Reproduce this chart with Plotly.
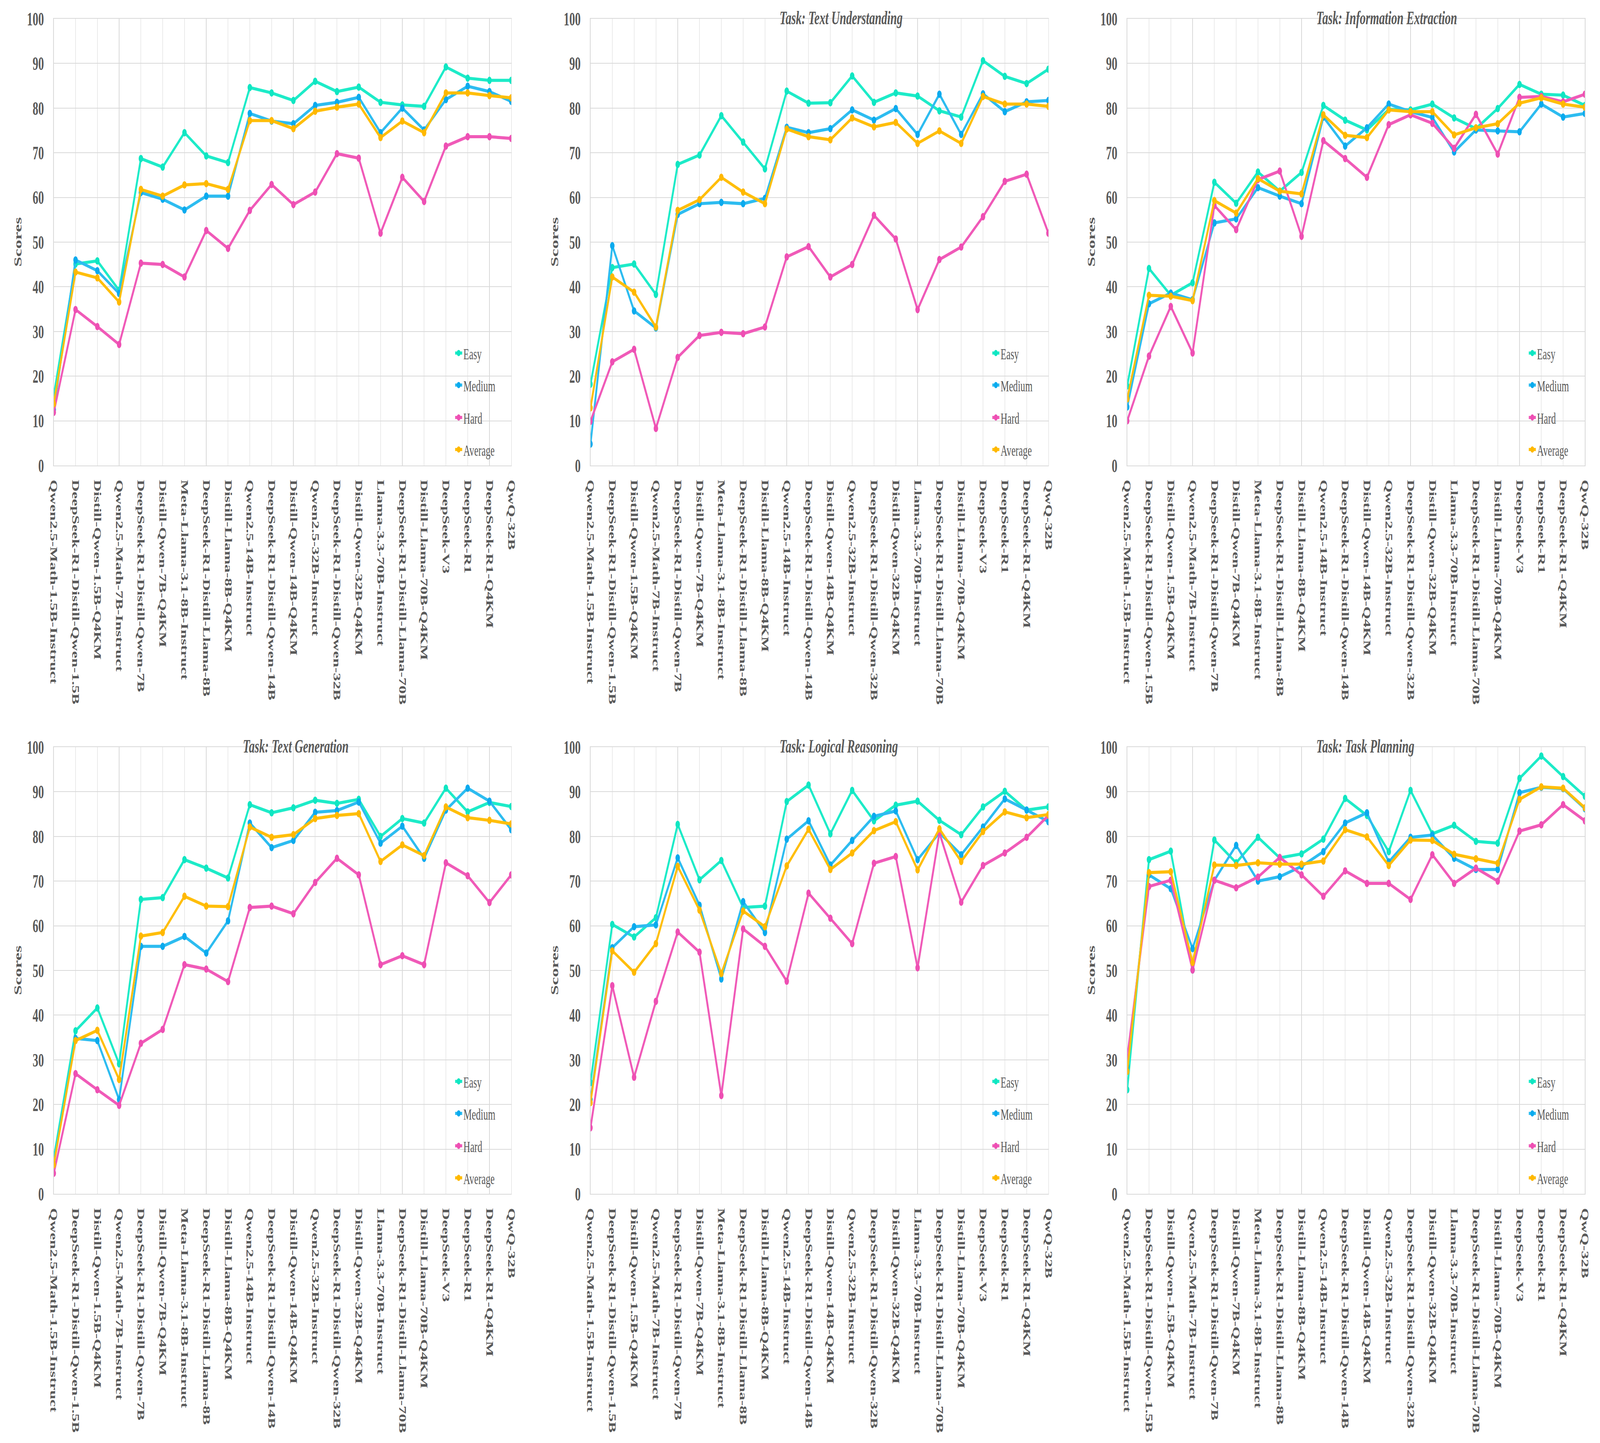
import plotly.graph_objects as go

categories = [
    "Qwen2.5-Math-1.5B-Instruct", "DeepSeek-R1-Distill-Qwen-1.5B", "Distill-Qwen-1.5B-Q4KM",
    "Qwen2.5-Math-7B-Instruct", "DeepSeek-R1-Distill-Qwen-7B", "Distill-Qwen-7B-Q4KM",
    "Meta-Llama-3.1-8B-Instruct", "DeepSeek-R1-Distill-Llama-8B", "Distill-Llama-8B-Q4KM",
    "Qwen2.5-14B-Instruct", "DeepSeek-R1-Distill-Qwen-14B", "Distill-Qwen-14B-Q4KM",
    "Qwen2.5-32B-Instruct", "DeepSeek-R1-Distill-Qwen-32B", "Distill-Qwen-32B-Q4KM",
    "Llama-3.3-70B-Instruct", "DeepSeek-R1-Distill-Llama-70B", "Distill-Llama-70B-Q4KM",
    "DeepSeek-V3", "DeepSeek-R1", "DeepSeek-R1-Q4KM", "QwQ-32B",
]
series_names = ["Easy", "Medium", "Hard", "Average"]
titles = ["", "Task: Text Understanding", "Task: Information Extraction",
          "Task: Text Generation", "Task: Logical Reasoning", "Task: Task Planning"]
y_ticks = [0, 10, 20, 30, 40, 50, 60, 70, 80, 90, 100]

# Overall
overall_easy = [15.7, 45.1, 45.8, 39.2, 68.7, 66.8, 74.5, 69.3, 67.8, 84.6, 83.4, 81.7, 86.0, 83.7, 84.7, 81.3, 80.7, 80.4, 89.2, 86.7, 86.2, 86.2]
overall_medium = [12.5, 46.0, 43.6, 38.5, 61.1, 59.6, 57.2, 60.3, 60.3, 78.8, 77.1, 76.5, 80.6, 81.3, 82.4, 74.5, 80.0, 75.1, 81.9, 84.9, 83.7, 81.5]
overall_hard = [11.9, 34.9, 31.1, 27.1, 45.3, 45.0, 42.2, 52.6, 48.6, 57.1, 62.9, 58.4, 61.2, 69.8, 68.8, 52.0, 64.5, 59.1, 71.5, 73.6, 73.6, 73.2]
overall_avg = [13.8, 43.3, 42.0, 36.6, 61.8, 60.3, 62.8, 63.1, 61.8, 77.2, 77.2, 75.4, 79.3, 80.2, 80.9, 73.4, 77.1, 74.5, 83.4, 83.4, 82.8, 82.3]

# Text Understanding
tu_easy = [18.2, 44.3, 45.1, 38.3, 67.4, 69.5, 78.3, 72.4, 66.4, 83.8, 81.1, 81.2, 87.2, 81.3, 83.4, 82.7, 79.4, 78.0, 90.6, 87.1, 85.5, 88.7]
tu_medium = [4.8, 49.2, 34.6, 30.8, 56.2, 58.6, 58.9, 58.6, 59.8, 75.7, 74.5, 75.4, 79.6, 77.3, 79.9, 74.1, 83.1, 74.1, 83.2, 79.2, 81.4, 81.7]
tu_hard = [9.9, 23.2, 26.0, 8.3, 24.2, 29.1, 29.8, 29.5, 31.0, 46.7, 49.0, 42.2, 45.0, 56.0, 50.7, 34.9, 46.1, 48.9, 55.7, 63.6, 65.2, 52.0]
tu_avg = [12.9, 42.2, 38.8, 31.0, 57.1, 59.5, 64.5, 61.2, 58.6, 75.3, 73.6, 72.9, 77.8, 75.8, 76.8, 72.1, 74.9, 72.1, 82.6, 80.9, 80.9, 80.4]

# Information Extraction
ie_easy = [17.8, 44.1, 38.1, 40.9, 63.4, 58.7, 65.7, 61.4, 65.6, 80.6, 77.3, 75.1, 79.7, 79.6, 80.9, 77.8, 75.4, 79.9, 85.3, 83.1, 82.9, 80.6]
ie_medium = [13.1, 36.2, 38.6, 37.1, 54.3, 55.2, 62.2, 60.3, 58.6, 78.0, 71.5, 75.6, 80.9, 79.2, 77.9, 70.2, 75.1, 74.9, 74.7, 80.9, 78.0, 78.8]
ie_hard = [10.0, 24.5, 35.6, 25.2, 58.2, 52.8, 64.0, 65.9, 51.3, 72.7, 68.7, 64.5, 76.3, 78.5, 76.6, 71.0, 78.6, 69.7, 82.4, 82.6, 81.4, 83.1]
ie_avg = [14.9, 38.1, 37.9, 36.9, 59.3, 56.5, 64.2, 61.4, 60.8, 78.5, 73.9, 73.4, 79.6, 79.2, 79.2, 74.0, 75.6, 76.5, 81.1, 82.3, 80.9, 80.2]

# Text Generation
tg_easy = [8.0, 36.5, 41.6, 29.1, 65.9, 66.3, 74.8, 72.9, 70.7, 87.1, 85.3, 86.4, 88.1, 87.4, 88.3, 80.0, 84.0, 83.0, 90.8, 85.5, 87.6, 86.7]
tg_medium = [6.8, 34.8, 34.3, 21.1, 55.4, 55.4, 57.6, 53.9, 61.1, 83.0, 77.5, 79.1, 85.4, 85.8, 87.7, 78.5, 82.3, 75.1, 85.9, 90.8, 87.9, 81.5]
tg_hard = [4.6, 26.9, 23.3, 19.8, 33.7, 36.8, 51.3, 50.3, 47.5, 64.1, 64.4, 62.7, 69.7, 75.1, 71.4, 51.3, 53.3, 51.3, 74.1, 71.2, 65.2, 71.4]
tg_avg = [6.5, 34.3, 36.6, 25.6, 57.7, 58.5, 66.6, 64.4, 64.3, 82.1, 79.8, 80.4, 84.0, 84.7, 85.1, 74.4, 78.1, 75.7, 86.6, 84.2, 83.6, 82.8]

# Logical Reasoning
lr_easy = [24.9, 60.3, 57.5, 61.8, 82.7, 70.3, 74.6, 64.1, 64.4, 87.8, 91.5, 80.6, 90.3, 83.5, 87.0, 87.9, 83.6, 80.4, 86.6, 90.1, 85.9, 86.6]
lr_medium = [21.1, 55.1, 59.8, 60.2, 75.2, 64.6, 48.1, 65.4, 58.5, 79.4, 83.5, 73.6, 79.1, 84.5, 85.7, 74.8, 80.8, 75.9, 82.1, 88.4, 85.9, 83.3]
lr_hard = [14.8, 46.6, 26.1, 43.1, 58.6, 54.1, 22.0, 59.3, 55.4, 47.6, 67.3, 61.7, 56.0, 74.0, 75.5, 50.6, 80.8, 65.3, 73.5, 76.3, 79.8, 84.7]
lr_avg = [20.4, 54.4, 49.6, 56.0, 73.3, 63.5, 49.3, 63.3, 59.8, 73.4, 81.6, 72.6, 76.3, 81.3, 83.3, 72.5, 81.7, 74.4, 81.1, 85.5, 84.2, 84.9]

# Task Planning
tp_easy = [23.3, 74.8, 76.7, 50.1, 79.2, 74.1, 79.8, 75.2, 76.1, 79.4, 88.5, 84.7, 76.6, 90.3, 80.6, 82.5, 78.9, 78.5, 93.0, 98.0, 93.4, 89.0]
tp_medium = [28.5, 71.4, 68.3, 54.9, 70.2, 78.0, 70.0, 71.0, 73.3, 76.6, 83.0, 85.3, 74.3, 79.8, 80.3, 75.1, 72.6, 72.6, 89.8, 91.0, 90.7, 86.2]
tp_hard = [30.5, 68.8, 70.2, 50.1, 70.2, 68.5, 70.9, 75.3, 71.4, 66.6, 72.3, 69.5, 69.5, 65.9, 75.9, 69.5, 72.9, 70.0, 81.2, 82.6, 87.1, 83.5]
tp_avg = [27.4, 71.9, 72.1, 51.8, 73.6, 73.5, 74.1, 73.8, 73.8, 74.5, 81.5, 79.9, 73.5, 79.2, 79.1, 76.0, 75.0, 74.0, 88.3, 91.1, 90.8, 86.4]

panels = [
    [overall_easy, overall_medium, overall_hard, overall_avg],
    [tu_easy, tu_medium, tu_hard, tu_avg],
    [ie_easy, ie_medium, ie_hard, ie_avg],
    [tg_easy, tg_medium, tg_hard, tg_avg],
    [lr_easy, lr_medium, lr_hard, lr_avg],
    [tp_easy, tp_medium, tp_hard, tp_avg],
]

line_colors = ["#1DEBC8", "#2DBCF0", "#F05AB8", "#FFBE0B"]
marker_colors = ["#0FE6C2", "#0AAAEE", "#EE4FB3", "#FFB800"]

W, H = 6785, 3695
SERIF = "Times New Roman, Liberation Serif, serif"
TXT = "#595959"
GRID = "#D9D9D9"

col_px = [(228, 2168), (2504, 4446), (4780, 6721)]
row_px = [(48, 1192), (1913, 3057)]

def px_x(p):
    return p / W

def px_y(p):
    return 1 - p / H

fig = go.Figure()
layout = dict(
    width=W, height=H, autosize=False,
    margin=dict(l=0, r=0, t=0, b=0),
    paper_bgcolor="white", plot_bgcolor="white",
    font=dict(family=SERIF, color=TXT),
    annotations=[],
)

legend_offsets = [288, 206, 123, 41]
leg_count = 0
for k, data in enumerate(panels):
    r, c = divmod(k, 3)
    x0, x1 = col_px[c]
    y0, y1 = row_px[r]
    sfx = "" if k == 0 else str(k + 1)
    for s, (name, vals) in enumerate(zip(series_names, data)):
        leg_count += 1
        leg_id = "legend" if leg_count == 1 else f"legend{leg_count}"
        fig.add_trace(go.Scatter(
            x=categories, y=vals, name=name, mode="lines+markers",
            line=dict(color=line_colors[s], width=8),
            marker=dict(color=marker_colors[s], size=19, line=dict(width=0)),
            xaxis="x" + sfx, yaxis="y" + sfx,
            legend=leg_id, showlegend=True,
        ))
        layout[leg_id] = dict(
            x=px_x(x1 - 198 - 45), y=px_y(y1 - legend_offsets[s]),
            xanchor="left", yanchor="middle",
            bgcolor="rgba(0,0,0,0)", borderwidth=0,
            font=dict(family=SERIF, size=40, color=TXT),
        )
    layout["xaxis" + sfx] = dict(
        domain=[px_x(x0), px_x(x1)], anchor="y" + sfx,
        type="category", categoryorder="array", categoryarray=categories,
        range=[0, len(categories) - 1],
        tickangle=90, ticks="", ticklabelstandoff=26,
        tickfont=dict(family=SERIF, size=42, color=TXT, weight="bold"),
        showgrid=True, gridcolor=GRID, gridwidth=2,
        showline=True, linecolor=GRID, linewidth=2, mirror=True,
        zeroline=False, automargin=False,
    )
    layout["yaxis" + sfx] = dict(
        domain=[px_y(y1), px_y(y0)], anchor="x" + sfx,
        range=[0, 100], tickvals=y_ticks, ticks="", ticklabelstandoff=30,
        tickfont=dict(family=SERIF, size=48, color=TXT, weight="bold"),
        showgrid=True, gridcolor=GRID, gridwidth=2,
        showline=True, linecolor=GRID, linewidth=2, mirror=True,
        zeroline=False, automargin=False,
    )
    layout["annotations"].append(dict(
        text="Scores", textangle=-90, showarrow=False,
        xref="paper", yref="paper", x=px_x(x0 - 153), y=px_y((y0 + y1) / 2),
        xanchor="center", yanchor="middle",
        font=dict(family=SERIF, size=46, color=TXT, weight="bold"),
    ))
    if titles[k]:
        layout["annotations"].append(dict(
            text=titles[k], showarrow=False,
            xref="paper", yref="paper", x=px_x(x0 + 800), y=px_y(y0 - 2),
            xanchor="left", yanchor="middle",
            font=dict(family=SERIF, size=49, color=TXT, weight="bold", style="italic"),
        ))

fig.update_layout(**layout)

# Fit the fixed 6785x3695 design exactly into whatever viewport the browser provides.
fit_js = """
(function(){
  var gd = document.getElementById('{plot_id}');
  var html = document.documentElement, body = document.body;
  html.style.overflow = 'hidden'; html.style.height = '100%%';
  body.style.margin = '0'; body.style.overflow = 'hidden'; body.style.height = '100%%';
  gd.style.position = 'absolute'; gd.style.left = '0'; gd.style.top = '0';
  function fit(){
    var sx = window.innerWidth / %d, sy = window.innerHeight / %d;
    gd.style.transformOrigin = '0 0';
    gd.style.transform = 'scale(' + sx + ',' + sy + ')';
  }
  fit();
  window.addEventListener('resize', fit);
})();
""" % (W, H)

fig.write_html("out.html", post_script=fit_js, config={"displayModeBar": False})
